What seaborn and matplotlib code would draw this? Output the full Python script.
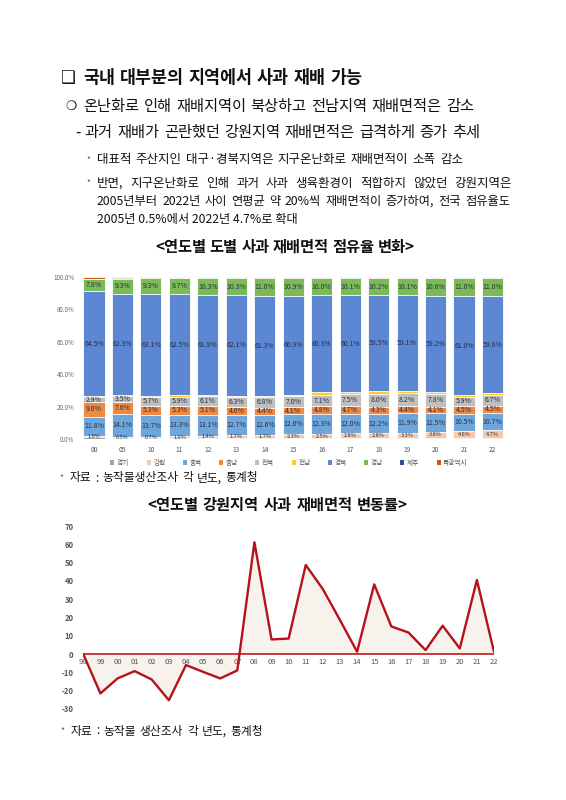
import matplotlib
matplotlib.use("Agg")
import matplotlib.pyplot as plt
from matplotlib.patches import Patch
import seaborn as sns
import numpy as np
import pandas as pd

sns.set_theme(style="white")
plt.rcParams['font.family'] = ['Noto Sans CJK KR', 'DejaVu Sans']
plt.rcParams['axes.unicode_minus'] = False

# ---------------- data: chart 1 (share of apple area by province, %) ----------------
years1 = ["00", "05", "10", "11", "12", "13", "14", "15", "16", "17", "18", "19", "20", "21", "22"]
gyeonggi = [1.0, 0.9, 0.7, 0.7, 0.6, 0.6, 0.6, 0.6, 0.6, 0.6, 0.6, 0.6, 0.6, 0.6, 0.6]
gangwon = [1.0, 0.5, 0.7, 1.0, 1.4, 1.7, 1.7, 2.3, 2.5, 2.8, 2.8, 3.3, 3.8, 4.6, 4.7]
chungbuk = [11.8, 14.1, 13.7, 13.3, 13.1, 12.7, 12.6, 12.6, 12.3, 12.0, 12.2, 11.9, 11.5, 10.5, 10.7]
chungnam = [9.0, 7.6, 5.3, 5.3, 5.1, 4.6, 4.4, 4.1, 4.8, 4.7, 4.3, 4.4, 4.1, 4.5, 4.5]
jeonbuk = [2.9, 3.5, 5.7, 5.9, 6.1, 6.3, 6.8, 7.0, 7.1, 7.5, 8.0, 8.2, 7.8, 5.9, 6.7]
jeonnam = [0.9, 0.8, 0.6, 0.7, 0.6, 0.8, 0.7, 0.7, 1.5, 1.3, 1.5, 1.5, 1.5, 1.0, 1.1]
gyeongbuk = [64.5, 62.3, 63.1, 62.5, 61.9, 62.1, 61.3, 60.9, 60.3, 60.1, 59.5, 59.1, 59.2, 61.0, 59.8]
gyeongnam = [7.8, 9.3, 9.3, 9.7, 10.3, 10.3, 11.0, 10.9, 10.0, 10.1, 10.2, 10.1, 10.6, 11.0, 11.0]
jeju = [0.1] * 15
metro = [1.0, 0.9, 0.8, 0.8, 0.8, 0.8, 0.8, 0.8, 0.8, 0.8, 0.8, 0.8, 0.8, 0.8, 0.8]

regions = ["경기", "강원", "충북", "충남", "전북", "전남", "경북", "경남", "제주", "특광역시"]
series = [gyeonggi, gangwon, chungbuk, chungnam, jeonbuk, jeonnam, gyeongbuk, gyeongnam, jeju, metro]
colors = ["#a3a3a3", "#f7c9a9", "#6ea6dc", "#f0883f", "#bfbfbf", "#ffcc29",
          "#5b87d3", "#7bbb55", "#2d4f96", "#c25b14"]
labeled = {"강원", "충북", "충남", "전북", "경북", "경남"}

# ---------------- data: chart 2 (Gangwon area change rate, %) ----------------
years2 = ["98", "99", "00", "01", "02", "03", "04", "05", "06", "07", "08", "09", "10",
          "11", "12", "13", "14", "15", "16", "17", "18", "19", "20", "21", "22"]
rate = [0.0, -21.5, -13.3, -9.3, -13.9, -25.2, -6.0, -9.7, -13.3, -8.9, 61.1, 8.0, 8.5,
        48.7, 35.5, 18.6, 1.3, 38.1, 15.1, 11.8, 2.2, 15.5, 3.1, 40.5, 1.3]

W, H = 566, 800
fig = plt.figure(figsize=(W / 100, H / 100), dpi=100)
fig.patch.set_facecolor("white")
renderer = fig.canvas.get_renderer()

def px(x, y):
    return x / W, 1 - y / H

def t(x, y, s, **kw):
    fx, fy = px(x, y)
    kw.setdefault("va", "center")
    kw.setdefault("color", "#111111")
    return fig.text(fx, fy, s, **kw)

def jline(x0, x1, y, s, **kw):
    """Draw a line of text justified between x0 and x1 (pixels)."""
    kw.setdefault("color", "#111111")
    words = s.split(" ")
    arts, widths = [], []
    for w in words:
        a = fig.text(0, 0, w, va="center", ha="left", **kw)
        widths.append(a.get_window_extent(renderer=renderer).width)
        arts.append(a)
    gap = (x1 - x0 - sum(widths)) / max(len(words) - 1, 1)
    x = x0
    for a, wd in zip(arts, widths):
        a.set_position(px(x, y))
        x += wd + gap

# ---------------- header text ----------------
t(60, 78, "❑", fontsize=12, family=['DejaVu Sans'], fontweight='bold')
jline(83, 362, 78, "국내 대부분의 지역에서 사과 재배 가능", fontsize=12.5, fontweight='bold')
t(65, 107, "❍", fontsize=9, family=['DejaVu Sans'])
jline(83, 474, 107, "온난화로 인해 재배지역이 북상하고 전남지역 재배면적은 감소", fontsize=11)
jline(75, 480, 132, "- 과거 재배가 곤란했던 강원지역 재배면적은 급격하게 증가 추세", fontsize=11)
t(86, 160, "*", fontsize=6, color="#555555")
jline(97, 463, 160, "대표적 주산지인 대구·경북지역은 지구온난화로 재배면적이 소폭 감소", fontsize=9)
t(86, 183, "*", fontsize=6, color="#555555")
jline(97, 512, 183, "반면, 지구온난화로 인해 과거 사과 생육환경이 적합하지 않았던 강원지역은", fontsize=9)
jline(97, 510, 201, "2005년부터 2022년 사이 연평균 약 20%씩 재배면적이 증가하여, 전국 점유율도", fontsize=8.8)
t(97, 219, "2005년 0.5%에서 2022년 4.7%로 확대", fontsize=8.8)
jline(155, 415, 247, "<연도별 도별 사과 재배면적 점유율 변화>", fontsize=11, fontweight='bold')
t(59, 478, "*", fontsize=6, color="#555555")
jline(70, 258, 478, "자료 : 농작물생산조사 각 년도, 통계청", fontsize=8.5)
jline(147, 408, 505, "<연도별 강원지역 사과 재배면적 변동률>", fontsize=11, fontweight='bold')
t(60, 731, "*", fontsize=6, color="#555555")
jline(71, 263, 731, "자료 : 농작물 생산조사 각 년도, 통계청", fontsize=8.5)

# ---------------- chart 1: stacked bars ----------------
ax1 = fig.add_axes([79.8 / W, 1 - 439 / H, 426.9 / W, 162 / H])
ax1.set_facecolor("white")
arr = np.array(series)
cum = np.cumsum(arr, axis=0)
# draw cumulative totals from the top layer down so lower layers cover upper ones
for k in range(len(regions) - 1, -1, -1):
    df = pd.DataFrame({"year": years1, "value": cum[k]})
    sns.barplot(data=df, x="year", y="value", order=years1, color=colors[k],
                width=0.74, ax=ax1, edgecolor="white", linewidth=0.6,
                saturation=1, errorbar=None)
for k, name in enumerate(regions):
    if name not in labeled:
        continue
    for i in range(len(years1)):
        mid = cum[k][i] - arr[k][i] / 2
        ax1.text(i, mid, f"{arr[k][i]:.1f}%", ha='center', va='center',
                 fontsize=5.0 if name != "강원" else 4.0, color="#2b2f45")
ax1.set_ylim(0, 100)
ax1.set_xlim(-0.5, len(years1) - 0.5)
ax1.set_yticks(np.arange(0, 101, 20))
ax1.set_yticklabels([f"{v:.1f}%" for v in np.arange(0, 101, 20)])
ax1.tick_params(axis='y', labelsize=4.5, colors="#666666", pad=4, length=0)
ax1.tick_params(axis='x', labelsize=4.8, colors="#555555", pad=5, length=0)
ax1.set_xlabel("")
ax1.set_ylabel("")
for s in ax1.spines.values():
    s.set_visible(False)
handles = [Patch(facecolor=c, edgecolor='none', label=r) for r, c in zip(regions, colors)]
leg = ax1.legend(handles=handles, ncol=10, loc='upper center', bbox_to_anchor=(0.49, -0.085),
                 frameon=False, fontsize=4.8, handlelength=0.6, handleheight=0.6,
                 handletextpad=0.4, columnspacing=2.6)
for txt in leg.get_texts():
    txt.set_color("#555555")

# ---------------- chart 2: line with fill ----------------
ax2 = fig.add_axes([83.3 / W, 1 - 709 / H, 410.7 / W, 183 / H])
ax2.set_facecolor("white")
df2 = pd.DataFrame({"pos": np.arange(len(years2)), "rate": rate})
ax2.fill_between(df2["pos"], df2["rate"], 0, color="#f8f2ec", linewidth=0, zorder=0.5)
ax2.axhline(0, color="#c0181f", linewidth=1.2, zorder=2)
sns.lineplot(data=df2, x="pos", y="rate", ax=ax2, color="#b5121b", linewidth=1.7, zorder=3)
ax2.set_xlim(0, len(years2) - 1)
ax2.set_ylim(-30, 70)
ax2.set_yticks(np.arange(-30, 71, 10))
ax2.set_xticks(np.arange(len(years2)))
ax2.set_xticklabels(years2)
ax2.tick_params(axis='y', labelsize=5.5, colors="#555555", pad=7, length=0)
ax2.tick_params(axis='x', labelsize=5.5, colors="#555555", pad=3, length=0)
for lab in ax2.get_xticklabels() + ax2.get_yticklabels():
    lab.set_fontweight('bold')
ax2.xaxis.set_zorder(2.5)
ax2.spines['bottom'].set_position(('data', 0))
for s in ax2.spines.values():
    s.set_visible(False)
ax2.set_xlabel("")
ax2.set_ylabel("")

fig.savefig("out.png", dpi=100, facecolor="white")
